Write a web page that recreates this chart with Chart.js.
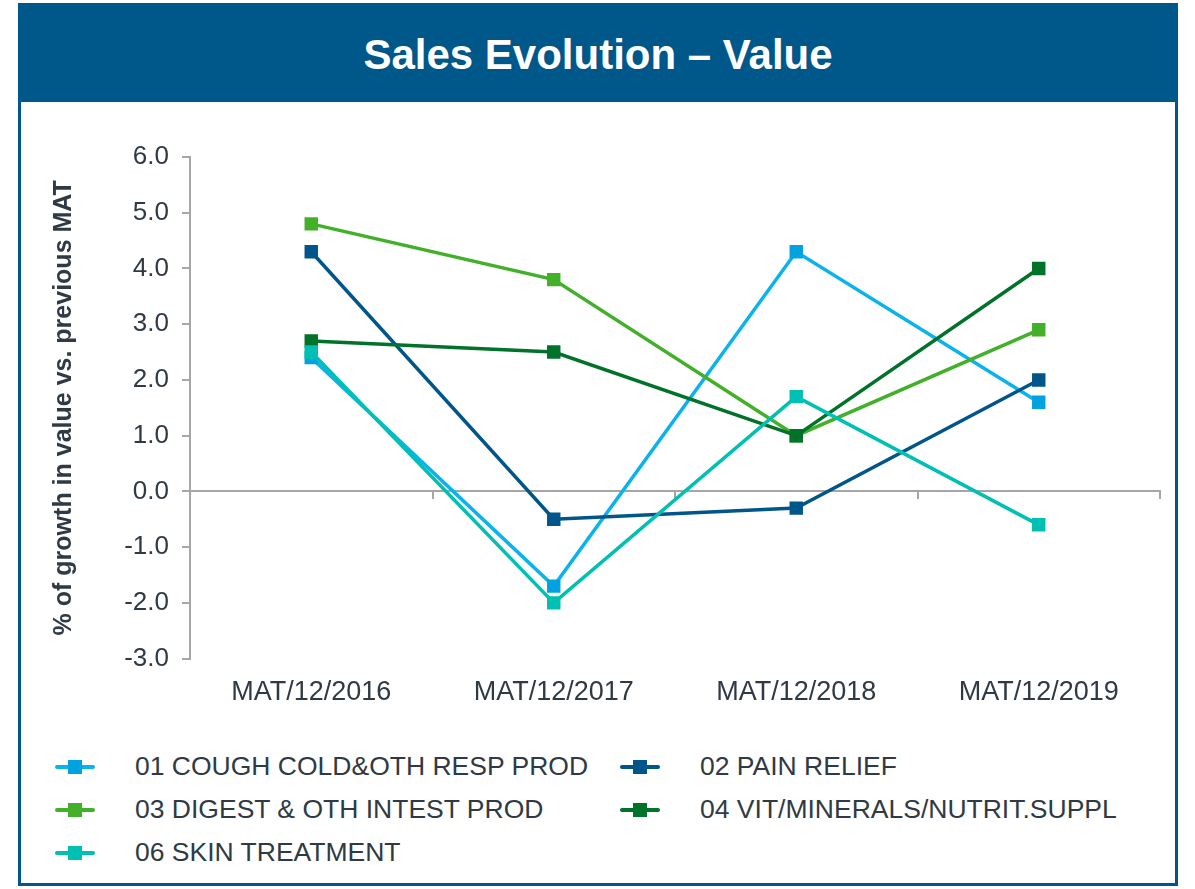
<!DOCTYPE html>
<html>
<head>
<meta charset="utf-8">
<script src="https://cdn.jsdelivr.net/npm/chart.js@4/dist/chart.umd.min.js"></script>
<style>
  body { margin: 0; background: #fff; font-family: "Liberation Sans", Arial, sans-serif; }
  .frame { position: absolute; left: 18px; top: 3px; width: 1154px; height: 880px; border: 3px solid #00578A; border-top: none; }
  .header { position: absolute; left: 18px; top: 3px; width: 1160px; height: 99px; background: #00578A; color: #fff;
            font-weight: bold; font-size: 42px; text-align: center; line-height: 104px; }
  .chartbox { position: absolute; left: 21px; top: 102px; width: 1154px; height: 625px; }
  #legend { position: absolute; left: 55px; top: 745px; display: grid; grid-template-columns: 565px 520px; row-gap: 0; }
  .item { display: flex; align-items: center; height: 43px; font-size: 26.5px; color: #2F3A44; white-space: nowrap; }
  .swatch { position: relative; flex: none; width: 40px; height: 14px; margin-right: 40px; }
  .swatch .ln { position: absolute; left: 0; right: 0; top: 5px; height: 4px; border-radius: 2px; }
  .swatch .sq { position: absolute; left: 13px; top: 0; width: 14px; height: 14px; }
</style>
</head>
<body>
<div class="frame"></div>
<div class="header">Sales Evolution – Value</div>
<div class="chartbox"><canvas id="salesChart"></canvas></div>
<div id="legend"></div>
<script>
var periods = ['MAT/12/2016', 'MAT/12/2017', 'MAT/12/2018', 'MAT/12/2019'];

var seriesNames = [
    '01 COUGH COLD&OTH RESP PROD',
    '02 PAIN RELIEF',
    '03 DIGEST & OTH INTEST PROD',
    '04 VIT/MINERALS/NUTRIT.SUPPL',
    '06 SKIN TREATMENT'
];

var coughCold   = [2.4, -1.7, 4.3, 1.6];
var painRelief  = [4.3, -0.5, -0.3, 2.0];
var digest      = [4.8, 3.8, 1.0, 2.9];
var vitMinerals = [2.7, 2.5, 1.0, 4.0];
var skinTreat   = [2.5, -2.0, 1.7, -0.6];

var lineColors   = ['#0AB2EE', '#00558A', '#43B02A', '#007229', '#00BFB3'];
var markerColors = ['#00A3E0', '#00558A', '#43B02A', '#007229', '#00BFB3'];

var yTicks = { min: -3, max: 6, step: 1 };

var axisGray = '#A6A6A6';
var textColor = '#2F3A44';
var font = 'Liberation Sans';

document.addEventListener('DOMContentLoaded', function () {
    var ctx = document.getElementById('salesChart').getContext('2d');
    var values = [coughCold, painRelief, digest, vitMinerals, skinTreat];

    var datasets = values.map(function (v, i) {
        return {
            label: seriesNames[i],
            data: v,
            borderColor: lineColors[i],
            borderWidth: 3.5,
            backgroundColor: markerColors[i],
            pointStyle: 'rect',
            pointRadius: 9.5,
            pointBorderWidth: 0,
            pointBackgroundColor: markerColors[i],
            tension: 0,
            order: values.length - i
        };
    });

    var salesChart = new Chart(ctx, {
        type: 'line',
        data: { labels: periods, datasets: datasets },
        options: {
            responsive: true,
            maintainAspectRatio: false,
            animation: false,
            layout: { padding: { top: 55, right: 15, left: 0, bottom: 0 } },
            plugins: {
                legend: { display: false },
                tooltip: { enabled: false }
            },
            scales: {
                x: {
                    type: 'category',
                    offset: true,
                    grid: { display: false, drawTicks: false },
                    border: { display: false },
                    ticks: { color: textColor, font: { family: font, size: 27 }, padding: 18, maxRotation: 0 }
                },
                x0: {
                    type: 'category',
                    labels: periods,
                    position: { y: 0 },
                    offset: true,
                    grid: { drawOnChartArea: false, drawTicks: true, tickLength: 7, color: axisGray, lineWidth: 2, offset: true },
                    border: { color: axisGray, width: 2 },
                    ticks: { display: false }
                },
                y: {
                    min: yTicks.min,
                    max: yTicks.max,
                    afterFit: function (scale) { scale.width = 169; },
                    grid: { drawOnChartArea: false, tickLength: 8, color: axisGray, lineWidth: 2 },
                    border: { color: axisGray, width: 2 },
                    ticks: {
                        stepSize: yTicks.step,
                        padding: 13,
                        color: textColor,
                        font: { family: font, size: 26 },
                        callback: function (value) { return value.toFixed(1); }
                    },
                    title: {
                        display: true,
                        text: '% of growth in value vs. previous MAT',
                        color: textColor,
                        font: { family: font, size: 25, weight: 'bold' },
                        padding: { top: 28 }
                    }
                }
            }
        }
    });

    // legend laid out in two columns like the original
    var legend = document.getElementById('legend');
    salesChart.data.datasets.forEach(function (ds) {
        var item = document.createElement('div');
        item.className = 'item';
        item.innerHTML = '<span class="swatch"><span class="ln" style="background:' + ds.borderColor +
            '"></span><span class="sq" style="background:' + ds.pointBackgroundColor + '"></span></span>' +
            '<span></span>';
        item.lastChild.textContent = ds.label;
        legend.appendChild(item);
    });
});
</script>
</body>
</html>
